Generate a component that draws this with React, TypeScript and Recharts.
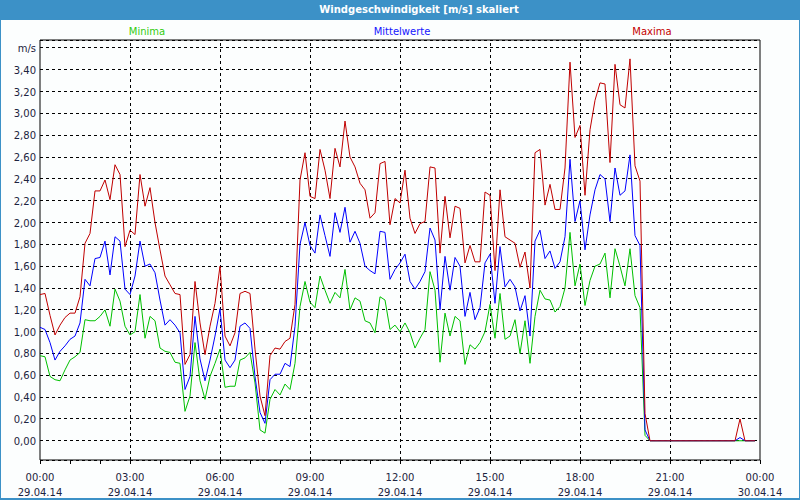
import React from "react";
import { LineChart, Line, XAxis, YAxis, CartesianGrid, ReferenceLine, ReferenceArea } from "recharts";

// 10-minute samples, 29.04.14 00:00 .. 23:50
const maxima = [
  1.34, 1.35, 1.15, 0.97, 1.06, 1.13, 1.17, 1.17, 1.32, 1.81,
  1.90, 2.29, 2.29, 2.39, 2.21, 2.53, 2.44, 1.78, 1.93, 1.89,
  2.44, 2.15, 2.32, 2.00, 1.75, 1.51, 1.43, 1.35, 1.34, 0.70,
  0.79, 1.46, 1.08, 0.79, 1.05, 1.26, 1.60, 0.96, 0.87, 0.99,
  1.35, 1.37, 1.35, 0.84, 0.41, 0.23, 0.78, 0.85, 0.84, 0.91,
  0.94, 1.25, 2.39, 2.64, 2.24, 2.22, 2.67, 2.48, 2.22, 2.68,
  2.51, 2.93, 2.60, 2.51, 2.36, 2.30, 2.04, 2.09, 2.54, 2.56,
  1.98, 2.22, 2.18, 2.48, 2.04, 1.90, 1.99, 2.01, 2.51, 2.50,
  1.72, 2.24, 1.86, 2.15, 2.13, 1.63, 1.79, 1.64, 1.64, 2.28,
  2.25, 1.56, 2.30, 1.87, 1.84, 1.81, 1.59, 1.73, 1.40, 2.64,
  2.67, 2.16, 2.35, 2.12, 2.12, 2.50, 3.47, 2.78, 2.89, 2.25,
  2.85, 3.12, 3.28, 3.27, 2.55, 3.45, 3.08, 3.05, 3.50, 2.52,
  2.38, 0.25, 0, 0, 0, 0, 0, 0, 0, 0,
  0, 0, 0, 0, 0, 0, 0, 0, 0, 0,
  0.20, 0, 0, 0,
];

const mittelwerte = [
  1.04, 1.02, 0.90, 0.74, 0.82, 0.87, 0.93, 0.96, 1.08, 1.48,
  1.42, 1.67, 1.68, 1.83, 1.52, 1.87, 1.83, 1.39, 1.34, 1.51,
  1.83, 1.60, 1.62, 1.54, 1.29, 1.06, 1.11, 1.06, 0.99, 0.47,
  0.59, 1.14, 0.75, 0.55, 0.74, 0.96, 1.21, 0.74, 0.67, 0.74,
  1.05, 1.08, 1.03, 0.59, 0.26, 0.16, 0.56, 0.61, 0.61, 0.71,
  0.68, 1.05, 1.80, 2.00, 1.79, 1.72, 2.07, 1.88, 1.69, 2.09,
  1.91, 2.14, 1.82, 1.92, 1.81, 1.60, 1.56, 1.53, 1.92, 1.91,
  1.48, 1.57, 1.63, 1.71, 1.46, 1.39, 1.46, 1.55, 1.95, 1.84,
  1.20, 1.69, 1.38, 1.68, 1.60, 1.14, 1.36, 1.11, 1.22, 1.63,
  1.71, 1.26, 1.78, 1.41, 1.48, 1.41, 1.19, 1.33, 0.96, 1.83,
  1.93, 1.67, 1.74, 1.58, 1.64, 1.87, 2.58, 2.01, 2.20, 1.75,
  2.07, 2.30, 2.44, 2.40, 2.01, 2.50, 2.25, 2.29, 2.62, 1.88,
  1.79, 0.10, 0, 0, 0, 0, 0, 0, 0, 0,
  0, 0, 0, 0, 0, 0, 0, 0, 0, 0,
  0.03, 0, 0, 0,
];

const minima = [
  0.78, 0.77, 0.59, 0.56, 0.55, 0.65, 0.74, 0.77, 0.81, 1.11,
  1.10, 1.10, 1.14, 1.20, 1.05, 1.39, 1.28, 1.05, 0.97, 1.00,
  1.34, 0.94, 1.14, 1.10, 0.85, 0.82, 0.81, 0.72, 0.71, 0.27,
  0.41, 0.90, 0.55, 0.38, 0.59, 0.71, 0.84, 0.49, 0.50, 0.50,
  0.74, 0.76, 0.81, 0.53, 0.10, 0.07, 0.38, 0.47, 0.42, 0.52,
  0.47, 0.71, 1.23, 1.46, 1.27, 1.22, 1.51, 1.38, 1.26, 1.36,
  1.31, 1.57, 1.20, 1.31, 1.28, 1.10, 1.08, 0.99, 1.32, 1.29,
  1.02, 1.06, 1.00, 1.08, 0.99, 0.85, 0.94, 1.02, 1.55, 1.38,
  0.72, 1.17, 0.96, 1.14, 1.10, 0.70, 0.88, 0.84, 0.90, 1.00,
  1.25, 0.94, 1.35, 0.93, 0.96, 1.11, 0.80, 1.10, 0.71, 1.14,
  1.38, 1.30, 1.29, 1.18, 1.23, 1.40, 1.91, 1.42, 1.62, 1.24,
  1.47, 1.60, 1.62, 1.72, 1.31, 1.76, 1.60, 1.42, 1.76, 1.33,
  1.22, 0.05, 0, 0, 0, 0, 0, 0, 0, 0,
  0, 0, 0, 0, 0, 0, 0, 0, 0, 0,
  0, 0, 0, 0,
];

// minutes since 29.04.14 00:00
const sampleMinutes = maxima.map((_, i) => i * 10);

const xLabelMinutes = [0, 180, 360, 540, 720, 900, 1080, 1260, 1440];
const xTimeLabels = ["00:00", "03:00", "06:00", "09:00", "12:00", "15:00", "18:00", "21:00", "00:00"];
const xDateLabels = ["29.04.14", "29.04.14", "29.04.14", "29.04.14", "29.04.14", "29.04.14", "29.04.14", "29.04.14", "30.04.14"];
const hourTicks = Array.from({ length: 25 }, (_, i) => i * 60);
const yTicks = [0, 0.2, 0.4, 0.6, 0.8, 1.0, 1.2, 1.4, 1.6, 1.8, 2.0, 2.2, 2.4, 2.6, 2.8, 3.0, 3.2, 3.4, 3.6];
const unitTick = 3.6;
const yDomain: [number, number] = [-0.176, 3.673];

const data = sampleMinutes.map((t, i) => ({
  t,
  max: maxima[i],
  mid: mittelwerte[i],
  min: minima[i],
}));

const FONT = "'DejaVu Sans', Verdana, sans-serif";
const TEXT = "#1c2440";
const FRAME = "#3c91c7";

const XTick = (props: any) => {
  const { x, y, payload } = props;
  const idx = xLabelMinutes.indexOf(payload.value);
  if (idx < 0) return null;
  return (
    <g>
      <text x={x} y={y + 15} textAnchor="middle" fontFamily={FONT} fontSize={10} fill={TEXT}>
        {xTimeLabels[idx]}
      </text>
      <text x={x} y={y + 30} textAnchor="middle" fontFamily={FONT} fontSize={10} fill={TEXT}>
        {xDateLabels[idx]}
      </text>
    </g>
  );
};

const YTick = (props: any) => {
  const { y, payload } = props;
  const v: number = payload.value;
  const label = Math.abs(v - unitTick) < 1e-6 ? "m/s" : v.toFixed(2).replace(".", ",");
  return (
    <text x={36} y={y + 4} textAnchor="end" fontFamily={FONT} fontSize={10} fill={TEXT}>
      {label}
    </text>
  );
};

export default function App() {
  return (
    <div style={{ position: "absolute", left: 0, top: 0, width: 800, height: 500, background: FRAME, overflow: "hidden" }}>
      <style>{`
        .recharts-cartesian-grid line,
        .recharts-reference-line line,
        .recharts-reference-area rect,
        .recharts-cartesian-axis-tick-line { shape-rendering: crispEdges; }
      `}</style>
      <div style={{ position: "absolute", left: 1, top: 20, width: 798, height: 478, background: "#fcfefe" }} />
      <div
        style={{
          position: "absolute", left: 319, top: 3, width: 200, textAlign: "center",
          fontFamily: FONT, fontWeight: "bold", fontSize: 10, color: "#ffffff", lineHeight: "14px",
        }}
      >
        Windgeschwindigkeit [m/s] skaliert
      </div>
      <div style={{ position: "absolute", left: 97, top: 25, width: 100, textAlign: "center", fontFamily: FONT, fontSize: 10, color: "#33cc11", lineHeight: "14px" }}>Minima</div>
      <div style={{ position: "absolute", left: 352, top: 25, width: 100, textAlign: "center", fontFamily: FONT, fontSize: 10, color: "#1515ff", lineHeight: "14px" }}>Mittelwerte</div>
      <div style={{ position: "absolute", left: 602, top: 25, width: 100, textAlign: "center", fontFamily: FONT, fontSize: 10, color: "#c40000", lineHeight: "14px" }}>Maxima</div>
      <div style={{ position: "absolute", left: 0, top: 0 }}>
        <LineChart width={800} height={500} data={data} margin={{ top: 40, right: 40, bottom: 0, left: 0 }}>
          <CartesianGrid vertical={false} stroke="#000" strokeDasharray="3 3" />
          {xLabelMinutes.slice(1, -1).map((m) => (
            <ReferenceLine key={m} x={m} stroke="#000" strokeDasharray="3 3" />
          ))}
          <XAxis
            dataKey="t"
            type="number"
            domain={[0, 1440]}
            ticks={hourTicks}
            interval={0}
            axisLine={false}
            tickLine={{ stroke: "#000" }}
            tickSize={4}
            height={40}
            tick={<XTick />}
          />
          <YAxis
            type="number"
            domain={yDomain}
            allowDataOverflow
            ticks={yTicks}
            interval={0}
            width={40}
            axisLine={false}
            tickLine={false}
            tick={<YTick />}
          />
          <Line type="linear" dataKey="min" stroke="#00c000" strokeWidth={1} dot={false} isAnimationActive={false} />
          <Line type="linear" dataKey="mid" stroke="#0000ff" strokeWidth={1} dot={false} isAnimationActive={false} />
          <Line type="linear" dataKey="max" stroke="#c00000" strokeWidth={1} dot={false} isAnimationActive={false} />
          <ReferenceArea x1={0} x2={1440} y1={yDomain[0]} y2={yDomain[1]} fill="none" stroke="#000" strokeWidth={1} ifOverflow="extendDomain" />
        </LineChart>
      </div>
    </div>
  );
}
